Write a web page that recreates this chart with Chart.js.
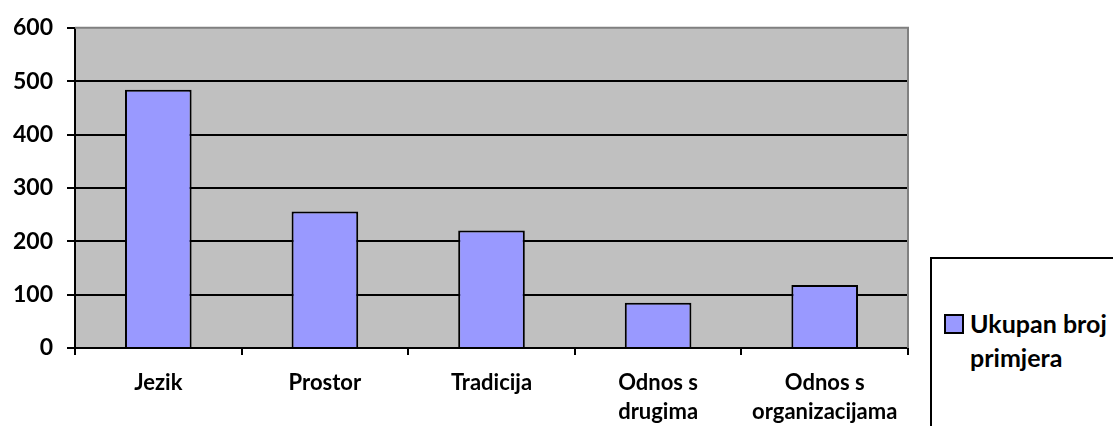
<!DOCTYPE html>
<html>
<head>
<meta charset="utf-8">
<title>Ukupan broj primjera</title>
<script src="https://cdn.jsdelivr.net/npm/chart.js@4"></script>
<style>
  html, body { margin: 0; padding: 0; background: #fff; overflow: hidden; }
  #wrap { position: relative; width: 1113px; height: 426px; }
  #legend {
    position: absolute; left: 930px; top: 257px; width: 200px; height: 200px;
    border: 2px solid #000; box-sizing: border-box; background: #fff;
    font-family: Lato, sans-serif; font-weight: bold; font-size: 25px; line-height: 34px;
  }
  #legend .sw {
    position: absolute; left: 12px; top: 55px; width: 16px; height: 16px;
    background: #9999ff; border: 2px solid #000;
  }
  #legend .txt { position: absolute; left: 38px; top: 47px; white-space: nowrap; }
</style>
</head>
<body>
<div id="wrap">
  <canvas id="chart" width="1113" height="426"></canvas>
  <div id="legend"><span class="sw"></span><span class="txt">Ukupan broj<br>primjera</span></div>
</div>
<script>
// data
const categories = ['Jezik', 'Prostor', 'Tradicija', ['Odnos s', 'drugima'], ['Odnos s', 'organizacijama']];
const seriesName = 'Ukupan broj primjera';
const values = [484, 256, 220, 85, 118];
const yMax = 600;
const yStep = 100;

const plotBg = {
  id: 'plotBg',
  beforeDraw(chart) {
    const { ctx, chartArea: a } = chart;
    ctx.save();
    ctx.fillStyle = '#c0c0c0';
    ctx.fillRect(a.left, a.top, a.right - a.left, a.bottom - a.top);
    ctx.restore();
  },
  afterDatasetsDraw(chart) {
    const { ctx, chartArea: a } = chart;
    ctx.save();
    ctx.strokeStyle = '#808080';
    ctx.lineWidth = 2;
    ctx.beginPath();
    ctx.moveTo(a.left, a.top);
    ctx.lineTo(a.right, a.top);
    ctx.lineTo(a.right, a.bottom);
    ctx.stroke();
    ctx.restore();
  }
};

new Chart(document.getElementById('chart'), {
  type: 'bar',
  data: {
    labels: categories,
    datasets: [{
      label: seriesName,
      data: values,
      backgroundColor: '#9999ff',
      borderColor: '#000',
      borderWidth: 2,
      barPercentage: 0.4,
      categoryPercentage: 1
    }]
  },
  options: {
    responsive: false,
    animation: false,
    layout: { padding: { top: 27, right: 205, left: 0, bottom: 0 } },
    plugins: { legend: { display: false }, tooltip: { enabled: false } },
    scales: {
      x: {
        grid: { drawOnChartArea: false, color: '#000', lineWidth: 2, tickLength: 7 },
        border: { display: true, color: '#000', width: 2 },
        ticks: {
          color: '#000', padding: 14, maxRotation: 0, autoSkip: false,
          font: { family: 'Lato', weight: 'bold', size: 22, lineHeight: 1.3 }
        },
        afterFit(scale) { scale.height = 78; }
      },
      y: {
        min: 0, max: yMax,
        grid: {
          color: ctx => ctx.tick && ctx.tick.value === yMax ? 'rgba(0,0,0,0)' : '#000',
          tickColor: '#000', lineWidth: 2, tickLength: 8
        },
        border: { display: true, color: '#000', width: 2 },
        ticks: {
          stepSize: yStep, color: '#000', padding: 14,
          font: { family: 'Lato', weight: 'bold', size: 23 }
        },
        afterFit(scale) { scale.width = 75; }
      }
    }
  },
  plugins: [plotBg]
});
</script>
</body>
</html>
